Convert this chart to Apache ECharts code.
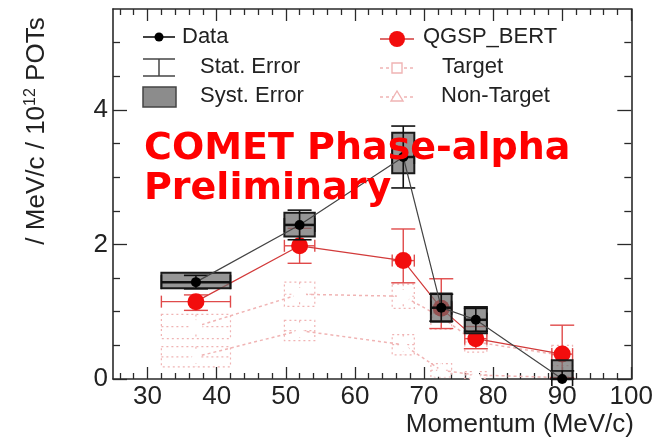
<!DOCTYPE html>
<html><head><meta charset="utf-8">
<script src="https://cdn.jsdelivr.net/npm/echarts@6.0.0/dist/echarts.min.js"></script>
<style>html,body{margin:0;padding:0;background:#fff}#c{width:656px;height:445px}</style>
</head><body><div id="c"></div>
<script>
const momentum = [37, 52, 67, 72.5, 77.5, 90];
const binHalfWidth = [5, 2.2, 1.6, 1.5, 1.6, 1.5];
const dataVals = [1.44, 2.29, 3.30, 1.06, 0.88, 0.0];
const dataStatErr = [0.10, 0.22, 0.46, 0.20, 0.17, 0.12];
const dataSystLo = [1.35, 2.12, 3.06, 0.85, 0.68, 0.0];
const dataSystHi = [1.58, 2.47, 3.66, 1.27, 1.07, 0.28];
const qgspVals = [1.15, 1.98, 1.76, 1.05, 0.60, 0.37];
const qgspErrLo = [1.02, 1.72, 1.43, 0.75, 0.45, 0.02];
const qgspErrHi = [1.25, 2.24, 2.23, 1.49, 0.78, 0.80];
const targetVals = [0.78, 1.26, 1.23, 0.92, 0.55, 0.35];
const targetErr = [0.18, 0.18, 0.18, 0.18, 0.15, 0.15];
const nonTargetVals = [0.33, 0.72, 0.51, 0.13, 0.06, 0.02];
const nonTargetErr = [0.15, 0.15, 0.15, 0.1, 0.05, 0.02];
const xMajorTicks = [30, 40, 50, 60, 70, 80, 90, 100];
const xMinorTicks = [26, 28, 32, 34, 36, 38, 42, 44, 46, 48, 52, 54, 56, 58, 62, 64, 66, 68, 72, 74, 76, 78, 82, 84, 86, 88, 92, 94, 96, 98];
const yMajorTicks = [0, 2, 4];
const yMinorTicks = [0.5, 1, 1.5, 2.5, 3, 3.5, 4.5, 5];
const xTitle = 'Momentum (MeV/c)';
const yTitle = '/ MeV/c / 10{sup|12} POTs';
const legendLeft = ['Data', 'Stat. Error', 'Syst. Error'];
const legendRight = ['QGSP_BERT', 'Target', 'Non-Target'];
const overlayLines = ['COMET Phase-alpha', 'Preliminary'];

const FONT = '"Liberation Sans", Arial, sans-serif';
const frame = '#2a2a2a';
const pink = '#f0b4b4';

function mkX(pos, ticks, len, labels, show) {
  return {type: 'value', min: 25, max: 100, position: pos, gridIndex: 0,
    axisLine: {show: show, onZero: false, lineStyle: {color: frame, width: 1.6}},
    axisTick: {show: true, inside: true, length: len, customValues: ticks, lineStyle: {color: frame, width: 1.3}},
    axisLabel: labels ? {show: true, customValues: ticks, fontSize: 26, color: '#222', fontFamily: FONT, margin: 5} : {show: false},
    splitLine: {show: false}};
}
function mkY(pos, ticks, len, labels, show) {
  return {type: 'value', min: 0, max: 5.5, position: pos, gridIndex: 0,
    axisLine: {show: show, onZero: false, lineStyle: {color: frame, width: 1.6}},
    axisTick: {show: true, inside: true, length: len, customValues: ticks, lineStyle: {color: frame, width: 1.3}},
    axisLabel: labels ? {show: true, customValues: ticks, fontSize: 26, color: '#222', fontFamily: FONT, margin: 5} : {show: false},
    splitLine: {show: false}};
}

function idx(n){return Array.from({length:n},(_,i)=>i);}

const systData = idx(momentum.length).map(i => [momentum[i], dataSystLo[i], dataSystHi[i], binHalfWidth[i]]);
const statData = idx(momentum.length).map(i => [momentum[i], dataVals[i], dataStatErr[i], binHalfWidth[i]]);
const qErrData = idx(momentum.length).map(i => [momentum[i], qgspVals[i], qgspErrLo[i], qgspErrHi[i], binHalfWidth[i]]);
const tBoxData = idx(momentum.length).map(i => [momentum[i], targetVals[i], targetErr[i], binHalfWidth[i]]);
const nBoxData = idx(momentum.length).map(i => [momentum[i], nonTargetVals[i], nonTargetErr[i], binHalfWidth[i]]);

function dottedBox(params, api) {
  const x = api.value(0), v = api.value(1), e = api.value(2), hw = api.value(3);
  const p1 = api.coord([x - hw, v + e]), p2 = api.coord([x + hw, Math.max(0, v - e)]);
  const c = api.coord([x, v]);
  const st = {stroke: pink, lineWidth: 1.2, lineDash: [2, 3], fill: null};
  return {type: 'group', children: [
    {type: 'rect', shape: {x: p1[0], y: p1[1], width: p2[0] - p1[0], height: p2[1] - p1[1]}, style: st},
    {type: 'line', shape: {x1: c[0], y1: p1[1], x2: c[0], y2: p2[1]}, style: st},
    {type: 'line', shape: {x1: p1[0], y1: c[1], x2: p2[0], y2: c[1]}, style: st}
  ]};
}

const option = {
  animation: false,
  backgroundColor: '#fff',
  grid: {left: 113, right: 24, top: 9, bottom: 66, containLabel: false},
  xAxis: [mkX('bottom', xMajorTicks, 12, true, true), mkX('bottom', xMinorTicks, 6, false, false),
          mkX('top', xMajorTicks, 12, false, true), mkX('top', xMinorTicks, 6, false, false)],
  yAxis: [mkY('left', yMajorTicks, 14, true, true), mkY('left', yMinorTicks, 7, false, false),
          mkY('right', yMajorTicks, 14, false, true), mkY('right', yMinorTicks, 7, false, false)],
  series: [
    {type: 'custom', name: 'TargetBox', data: tBoxData, renderItem: dottedBox, z: 1},
    {type: 'custom', name: 'NonTargetBox', data: nBoxData, renderItem: dottedBox, z: 1},
    {type: 'line', name: 'Target', data: momentum.map((m, i) => [m, targetVals[i]]), z: 2,
      lineStyle: {color: pink, width: 1.5, type: [3, 3]}, symbol: 'emptyCircle', symbolSize: 11,
      itemStyle: {color: '#fff', borderColor: '#e79a9a', borderWidth: 1.5}},
    {type: 'line', name: 'Non-Target', data: momentum.map((m, i) => [m, nonTargetVals[i]]), z: 2,
      lineStyle: {color: pink, width: 1.5, type: [3, 3]}, symbol: 'emptyTriangle', symbolSize: 11,
      itemStyle: {color: '#fff', borderColor: '#e79a9a', borderWidth: 1.5}},
    {type: 'custom', name: 'QErr', data: qErrData, z: 3, renderItem: function(params, api) {
      const x = api.value(0), v = api.value(1), lo = api.value(2), hi = api.value(3), hw = api.value(4);
      const t = api.coord([x, hi]), b = api.coord([x, lo]), l = api.coord([x - hw, v]), r = api.coord([x + hw, v]);
      const st = {stroke: '#e04a4a', lineWidth: 1.4};
      return {type: 'group', children: [
        {type: 'line', shape: {x1: t[0], y1: t[1], x2: b[0], y2: b[1]}, style: st},
        {type: 'line', shape: {x1: t[0] - 12, y1: t[1], x2: t[0] + 12, y2: t[1]}, style: st},
        {type: 'line', shape: {x1: b[0] - 12, y1: b[1], x2: b[0] + 12, y2: b[1]}, style: st},
        {type: 'line', shape: {x1: l[0], y1: l[1], x2: r[0], y2: r[1]}, style: st},
        {type: 'line', shape: {x1: l[0], y1: l[1] - 6, x2: l[0], y2: l[1] + 6}, style: st},
        {type: 'line', shape: {x1: r[0], y1: r[1] - 6, x2: r[0], y2: r[1] + 6}, style: st}
      ]};
    }},
    {type: 'line', name: 'QGSP_BERT', data: momentum.map((m, i) => [m, qgspVals[i]]), z: 4,
      lineStyle: {color: '#d23a3a', width: 1.2}, symbol: 'circle', symbolSize: 17,
      itemStyle: {color: '#f20d0d'}},
    {type: 'custom', name: 'Syst', data: systData, z: 5, renderItem: function(params, api) {
      const x = api.value(0), lo = api.value(1), hi = api.value(2), hw = api.value(3);
      const p1 = api.coord([x - hw, hi]), p2 = api.coord([x + hw, lo]);
      return {type: 'rect', shape: {x: p1[0], y: p1[1], width: p2[0] - p1[0], height: p2[1] - p1[1]},
        style: {fill: 'rgba(110,110,110,0.72)', stroke: '#1a1a1a', lineWidth: 2}};
    }},
    {type: 'custom', name: 'Stat', data: statData, z: 6, renderItem: function(params, api) {
      const x = api.value(0), v = api.value(1), e = api.value(2), hw = api.value(3);
      const t = api.coord([x, v + e]), b = api.coord([x, Math.max(0, v - e)]), l = api.coord([x - hw, v]), r = api.coord([x + hw, v]);
      const st = {stroke: '#111', lineWidth: 1.6};
      return {type: 'group', children: [
        {type: 'line', shape: {x1: t[0], y1: t[1], x2: b[0], y2: b[1]}, style: st},
        {type: 'line', shape: {x1: t[0] - 12, y1: t[1], x2: t[0] + 12, y2: t[1]}, style: st},
        {type: 'line', shape: {x1: b[0] - 12, y1: b[1], x2: b[0] + 12, y2: b[1]}, style: st},
        {type: 'line', shape: {x1: l[0], y1: l[1], x2: r[0], y2: r[1]}, style: {stroke: '#111', lineWidth: 2.5}},
        {type: 'line', shape: {x1: l[0], y1: l[1] - 7, x2: l[0], y2: l[1] + 7}, style: st},
        {type: 'line', shape: {x1: r[0], y1: r[1] - 7, x2: r[0], y2: r[1] + 7}, style: st}
      ]};
    }},
    {type: 'line', name: 'Data', data: momentum.map((m, i) => [m, dataVals[i]]), z: 7,
      lineStyle: {color: '#444', width: 1.2}, symbol: 'circle', symbolSize: 10,
      itemStyle: {color: '#000'}}
  ],
  graphic: [
    // legend left
    {type: 'line', shape: {x1: 143, y1: 37, x2: 175, y2: 37}, style: {stroke: '#111', lineWidth: 1.6}, z: 20},
    {type: 'circle', shape: {cx: 159, cy: 37, r: 4.5}, style: {fill: '#000'}, z: 20},
    {type: 'text', x: 182, y: 37, style: {text: legendLeft[0], font: '22px ' + FONT, fill: '#222', verticalAlign: 'middle'}, z: 20},
    {type: 'line', shape: {x1: 143, y1: 59, x2: 175, y2: 59}, style: {stroke: '#444', lineWidth: 1.5}, z: 20},
    {type: 'line', shape: {x1: 143, y1: 76, x2: 175, y2: 76}, style: {stroke: '#444', lineWidth: 1.5}, z: 20},
    {type: 'line', shape: {x1: 159, y1: 59, x2: 159, y2: 76}, style: {stroke: '#444', lineWidth: 1.5}, z: 20},
    {type: 'text', x: 200, y: 67, style: {text: legendLeft[1], font: '22px ' + FONT, fill: '#222', verticalAlign: 'middle'}, z: 20},
    {type: 'rect', shape: {x: 143, y: 87, width: 33, height: 20}, style: {fill: '#8c8c8c', stroke: '#444', lineWidth: 1.5}, z: 20},
    {type: 'text', x: 200, y: 96, style: {text: legendLeft[2], font: '22px ' + FONT, fill: '#222', verticalAlign: 'middle'}, z: 20},
    // legend right
    {type: 'line', shape: {x1: 380, y1: 39, x2: 414, y2: 39}, style: {stroke: '#d23a3a', lineWidth: 1.5}, z: 20},
    {type: 'circle', shape: {cx: 397, cy: 39, r: 8}, style: {fill: '#f20d0d'}, z: 20},
    {type: 'text', x: 423, y: 37, style: {text: legendRight[0], font: '22px ' + FONT, fill: '#222', verticalAlign: 'middle'}, z: 20},
    {type: 'line', shape: {x1: 380, y1: 68, x2: 415, y2: 68}, style: {stroke: pink, lineWidth: 1.4, lineDash: [3, 3]}, z: 20},
    {type: 'rect', shape: {x: 392, y: 63, width: 10, height: 10}, style: {fill: '#fff', stroke: pink, lineWidth: 1.4}, z: 20},
    {type: 'text', x: 442, y: 67, style: {text: legendRight[1], font: '22px ' + FONT, fill: '#222', verticalAlign: 'middle'}, z: 20},
    {type: 'line', shape: {x1: 380, y1: 97, x2: 415, y2: 97}, style: {stroke: pink, lineWidth: 1.4, lineDash: [3, 3]}, z: 20},
    {type: 'polygon', shape: {points: [[397, 91], [391, 101], [403, 101]]}, style: {fill: '#fff', stroke: pink, lineWidth: 1.4}, z: 20},
    {type: 'text', x: 441, y: 96, style: {text: legendRight[2], font: '22px ' + FONT, fill: '#222', verticalAlign: 'middle'}, z: 20},
    // axis titles
    {type: 'text', x: 634, y: 425, style: {text: xTitle, font: '26px ' + FONT, fill: '#222', align: 'right', verticalAlign: 'middle'}, z: 20},
    {type: 'text', x: 37, y: 131, rotation: Math.PI / 2,
      style: {text: yTitle, font: '26px ' + FONT, fill: '#222', align: 'center', verticalAlign: 'middle',
        rich: {sup: {fontSize: 16, fontFamily: FONT, fill: '#222', verticalAlign: 'top', padding: [0, 0, 12, 0]}}}, z: 20},
    // overlay text
    {type: 'text', x: 144, y: 149, style: {text: overlayLines[0], font: 'bold 38px "DejaVu Sans", sans-serif', fill: '#ff0000', verticalAlign: 'middle'}, z: 30},
    {type: 'text', x: 144, y: 189, style: {text: overlayLines[1], font: 'bold 38px "DejaVu Sans", sans-serif', fill: '#ff0000', verticalAlign: 'middle'}, z: 30}
  ]
};
const chart = echarts.init(document.getElementById('c'), null, {renderer: 'canvas'});
chart.setOption(option);
</script></body></html>
